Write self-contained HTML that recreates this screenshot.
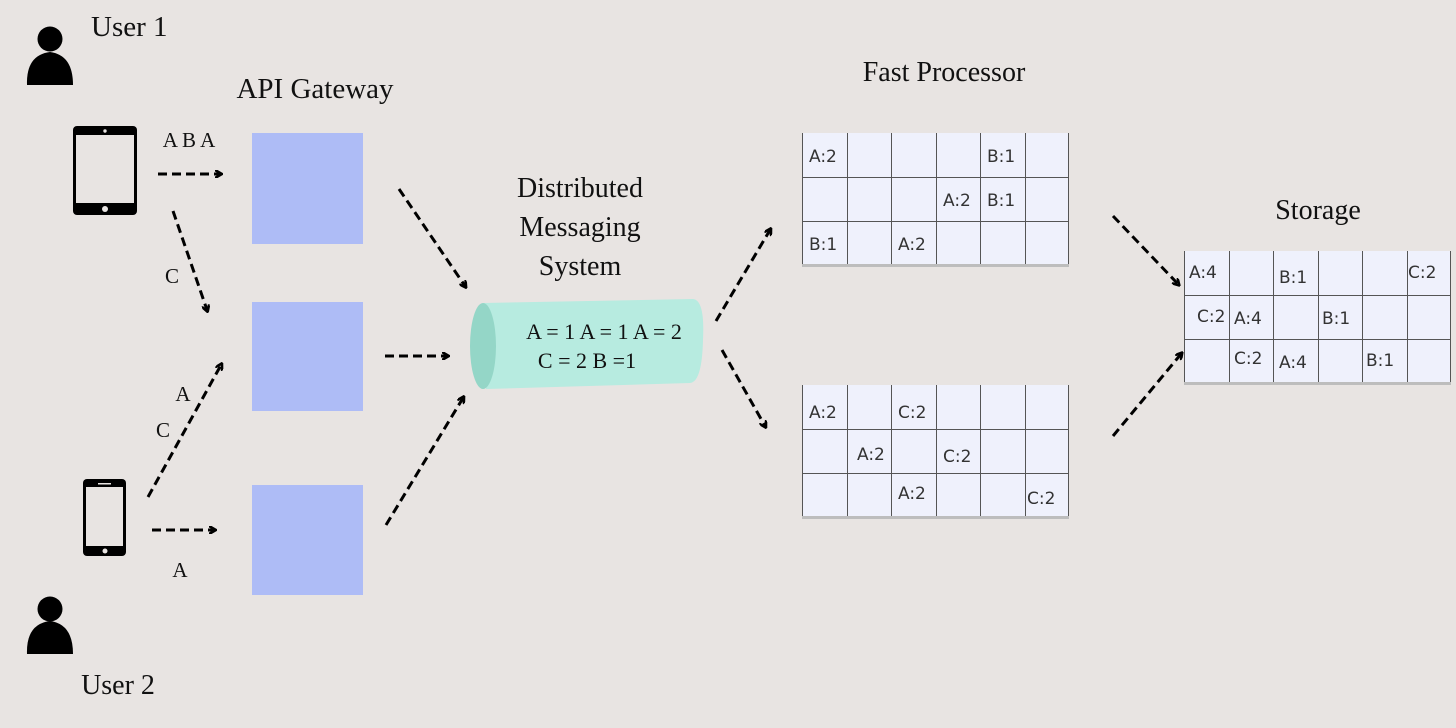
<!DOCTYPE html>
<html><head><meta charset="utf-8"><style>
html,body{margin:0;padding:0;background:#e8e4e2;}
svg{display:block}
.s{font-family:"Liberation Serif",serif;fill:#111}
.g{font-family:"DejaVu Sans","Liberation Sans",sans-serif;font-size:17px;fill:#333}
.d{stroke:#000;stroke-width:3;stroke-dasharray:9 5;fill:none}
</style></head><body>
<svg width="1456" height="728" viewBox="0 0 1456 728" xmlns="http://www.w3.org/2000/svg">
<defs>
<marker id="ah" markerWidth="8" markerHeight="8" refX="5" refY="4" orient="auto" markerUnits="userSpaceOnUse">
<path d="M0,0 L7,4 L0,8" fill="none" stroke="#000" stroke-width="2.6"/>
</marker>
</defs>
<rect width="1456" height="728" fill="#e8e4e2"/>

<text class="s" x="91" y="36" font-size="29">User 1</text>
<text class="s" x="315" y="98" font-size="29" text-anchor="middle">API Gateway</text>
<text class="s" x="580" y="197" font-size="28" text-anchor="middle">Distributed</text>
<text class="s" x="580" y="236" font-size="28" text-anchor="middle">Messaging</text>
<text class="s" x="580" y="275" font-size="28" text-anchor="middle">System</text>
<text class="s" x="944" y="81" font-size="28" text-anchor="middle">Fast Processor</text>
<text class="s" x="1318" y="219" font-size="28" text-anchor="middle">Storage</text>
<text class="s" x="118" y="694" font-size="28" text-anchor="middle">User 2</text>

<circle cx="50" cy="39" r="12.5" fill="#000"/>
<path d="M27,85 Q26,55 50,52 Q73,55 73,85 Z" fill="#000"/>
<circle cx="50" cy="609" r="12.5" fill="#000"/>
<path d="M27,654 Q26,624 50,621 Q73,624 73,654 Z" fill="#000"/>

<rect x="73" y="126" width="64" height="89" rx="4" fill="#000"/>
<rect x="76" y="135" width="58" height="68" fill="#e8e4e2"/>
<circle cx="105" cy="131" r="1.7" fill="#e8e4e2"/>
<circle cx="105" cy="209" r="3" fill="#e8e4e2"/>
<rect x="83" y="479" width="43" height="77" rx="4" fill="#000"/>
<rect x="86" y="487" width="37" height="59" fill="#e8e4e2"/>
<rect x="98" y="483" width="13" height="1.5" fill="#e8e4e2"/>
<circle cx="105" cy="551" r="2.5" fill="#e8e4e2"/>

<rect x="252" y="133" width="111" height="111" fill="#aebcf6"/>
<rect x="252" y="302" width="111" height="109" fill="#aebcf6"/>
<rect x="252" y="485" width="111" height="110" fill="#aebcf6"/>

<line class="d" x1="158" y1="174" x2="220" y2="174" marker-end="url(#ah)"/>
<line class="d" x1="173" y1="211" x2="207" y2="310" marker-end="url(#ah)"/>
<line class="d" x1="148" y1="497" x2="221" y2="365" marker-end="url(#ah)"/>
<line class="d" x1="152" y1="530" x2="214" y2="530" marker-end="url(#ah)"/>
<line class="d" x1="399" y1="189" x2="465" y2="286" marker-end="url(#ah)"/>
<line class="d" x1="385" y1="356" x2="447" y2="356" marker-end="url(#ah)"/>
<line class="d" x1="386" y1="525" x2="463" y2="398" marker-end="url(#ah)"/>
<line class="d" x1="716" y1="321" x2="770" y2="230" marker-end="url(#ah)"/>
<line class="d" x1="722" y1="350" x2="765" y2="426" marker-end="url(#ah)"/>
<line class="d" x1="1113" y1="216" x2="1178" y2="284" marker-end="url(#ah)"/>
<line class="d" x1="1113" y1="436" x2="1181" y2="354" marker-end="url(#ah)"/>

<text class="s" x="189" y="147" font-size="21" text-anchor="middle">A B A</text>
<text class="s" x="172" y="283" font-size="21" text-anchor="middle">C</text>
<text class="s" x="183" y="401" font-size="21" text-anchor="middle">A</text>
<text class="s" x="163" y="437" font-size="21" text-anchor="middle">C</text>
<text class="s" x="180" y="577" font-size="21" text-anchor="middle">A</text>

<path d="M483,303 L693,299 Q705,300 703,340 Q702,382 690,383 L486,389 Z" fill="#b7ebe0"/>
<ellipse cx="483" cy="346" rx="13" ry="43" fill="#94d6c7"/>
<text class="s" x="604" y="339" font-size="22" text-anchor="middle">A = 1  A = 1 A = 2</text>
<text class="s" x="587" y="368" font-size="22" text-anchor="middle">C = 2 B =1</text>

<g>
<rect x="802" y="133" width="267" height="133" fill="#eff1fc"/>
<g stroke="#555" stroke-width="1">
<line x1="802" y1="177.5" x2="1069" y2="177.5"/><line x1="802" y1="221.5" x2="1069" y2="221.5"/>
<line x1="802.5" y1="133" x2="802.5" y2="266"/><line x1="847.5" y1="133" x2="847.5" y2="266"/><line x1="891.5" y1="133" x2="891.5" y2="266"/><line x1="936.5" y1="133" x2="936.5" y2="266"/><line x1="980.5" y1="133" x2="980.5" y2="266"/><line x1="1025.5" y1="133" x2="1025.5" y2="266"/><line x1="1068.5" y1="133" x2="1068.5" y2="266"/>
</g>
<rect x="802" y="264" width="267" height="3" fill="#bdbdbd"/>
<text class="g" x="809" y="162">A:2</text><text class="g" x="987" y="162">B:1</text>
<text class="g" x="943" y="206">A:2</text><text class="g" x="987" y="206">B:1</text>
<text class="g" x="809" y="250">B:1</text><text class="g" x="898" y="250">A:2</text>
</g>
<g transform="translate(0,252)">
<rect x="802" y="133" width="267" height="133" fill="#eff1fc"/>
<g stroke="#555" stroke-width="1">
<line x1="802" y1="177.5" x2="1069" y2="177.5"/><line x1="802" y1="221.5" x2="1069" y2="221.5"/>
<line x1="802.5" y1="133" x2="802.5" y2="266"/><line x1="847.5" y1="133" x2="847.5" y2="266"/><line x1="891.5" y1="133" x2="891.5" y2="266"/><line x1="936.5" y1="133" x2="936.5" y2="266"/><line x1="980.5" y1="133" x2="980.5" y2="266"/><line x1="1025.5" y1="133" x2="1025.5" y2="266"/><line x1="1068.5" y1="133" x2="1068.5" y2="266"/>
</g>
<rect x="802" y="264" width="267" height="3" fill="#bdbdbd"/>
<text class="g" x="809" y="166">A:2</text><text class="g" x="898" y="166">C:2</text>
<text class="g" x="857" y="208">A:2</text><text class="g" x="943" y="210">C:2</text>
<text class="g" x="898" y="247">A:2</text><text class="g" x="1027" y="252">C:2</text>
</g>
<g transform="translate(382,118)">
<rect x="802" y="133" width="267" height="133" fill="#eff1fc"/>
<g stroke="#555" stroke-width="1">
<line x1="802" y1="177.5" x2="1069" y2="177.5"/><line x1="802" y1="221.5" x2="1069" y2="221.5"/>
<line x1="802.5" y1="133" x2="802.5" y2="266"/><line x1="847.5" y1="133" x2="847.5" y2="266"/><line x1="891.5" y1="133" x2="891.5" y2="266"/><line x1="936.5" y1="133" x2="936.5" y2="266"/><line x1="980.5" y1="133" x2="980.5" y2="266"/><line x1="1025.5" y1="133" x2="1025.5" y2="266"/><line x1="1068.5" y1="133" x2="1068.5" y2="266"/>
</g>
<rect x="802" y="264" width="267" height="3" fill="#bdbdbd"/>
<text class="g" x="807" y="160">A:4</text><text class="g" x="897" y="165">B:1</text><text class="g" x="1026" y="160">C:2</text>
<text class="g" x="815" y="204">C:2</text><text class="g" x="852" y="206">A:4</text><text class="g" x="940" y="206">B:1</text>
<text class="g" x="852" y="246">C:2</text><text class="g" x="897" y="250">A:4</text><text class="g" x="984" y="248">B:1</text>
</g>
</svg>
</body></html>
